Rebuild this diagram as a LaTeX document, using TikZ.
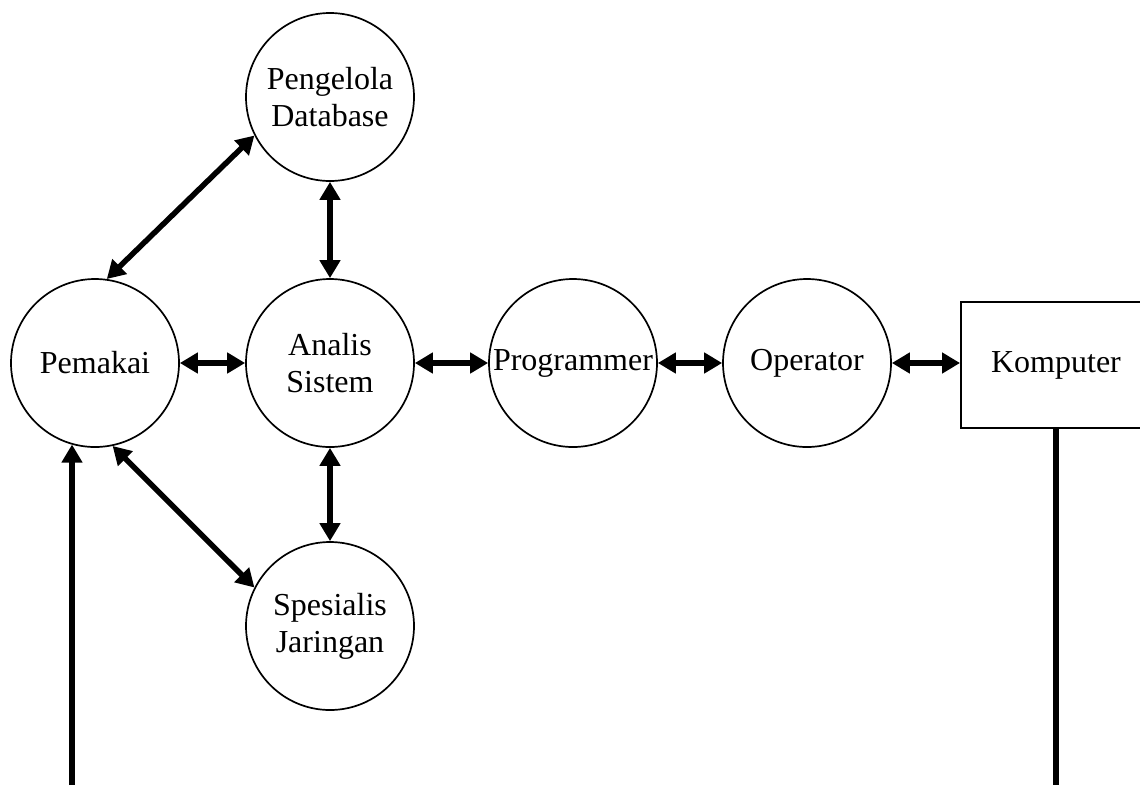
\documentclass[tikz,border=0pt]{standalone}
\usepackage{fontspec}
\setmainfont{Liberation Serif}
\usetikzlibrary{arrows.meta}
\begin{document}
\begin{tikzpicture}[x=1pt,y=-1pt,
  role/.style={circle,draw,line width=1.7pt,minimum size=168pt,inner sep=0pt,
    align=center,font=\fontsize{32}{37}\selectfont},
  unit/.style={rectangle,draw,line width=1.9pt,minimum width=190pt,minimum height=126pt,
    inner sep=0pt,font=\fontsize{32}{37}\selectfont},
  link/.style={line width=5.5pt,{Triangle[length=18pt,width=20pt]}-{Triangle[length=18pt,width=20pt]}},
  feed/.style={line width=5.5pt,-{Triangle[length=18pt,width=20pt]}},
  plain/.style={line width=5.5pt}]
\clip (0,0) rectangle (1140,785);
% roles
\node[role] (pemakai) at (95,363) {Pemakai};
\node[role] (analis) at (330,363) {Analis\\Sistem};
\node[role] (prog) at (573,363) {Programmer};
\node[role] (oper) at (807,363) {Operator};
\node[role] (db) at (330,97) {Pengelola\\Database};
\node[role] (net) at (330,626) {Spesialis\\Jaringan};
\node[unit] (komp) at (1056,365) {Komputer};
% two-way links
\draw[link] (pemakai) -- (analis);
\draw[link] (analis) -- (prog);
\draw[link] (prog) -- (oper);
\draw[link] (oper.east) -- (oper.east -| komp.west);
\draw[link] (db) -- (analis);
\draw[link] (analis) -- (net);
\draw[link] (pemakai.82) -- (db.207);
\draw[link] (pemakai.-78) -- (net.153);
% feedback lines
\coordinate (p0) at (72,785);
\coordinate (k0) at (1056,785);
\draw[feed] (p0) -- (p0 |- pemakai.254);
\draw[plain] (komp.south) -- (k0);
\end{tikzpicture}
\end{document}
